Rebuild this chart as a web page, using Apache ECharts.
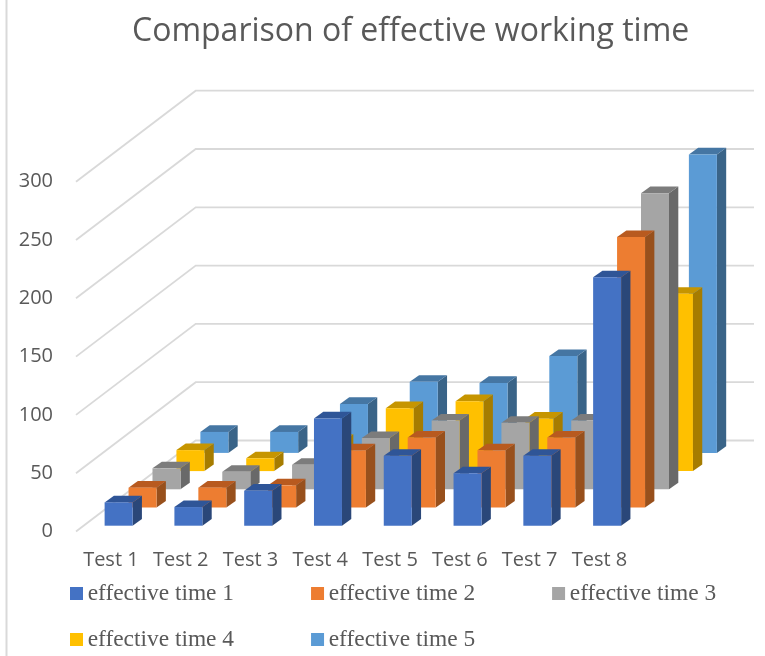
<!DOCTYPE html>
<html>
<head>
<meta charset="utf-8">
<style>html,body{margin:0;padding:0;background:#fff}#c{width:765px;height:656px}</style>
<script src="https://cdn.jsdelivr.net/npm/echarts@6/dist/echarts.min.js"></script>
</head>
<body>
<div id="c"></div>
<script>
var categories = ['Test 1','Test 2','Test 3','Test 4','Test 5','Test 6','Test 7','Test 8'];
var seriesNames = ['effective time 1','effective time 2','effective time 3','effective time 4','effective time 5'];
var time1 = [20,16,30,92,60,45,60,213];
var time2 = [17,17,19,49,60,49,60,232];
var time3 = [18,15,21,44,59,57,59,254];
var time4 = [18,11,26,54,60,45,60,152];
var time5 = [18,18,42,61,60,83,60,256];
var yTicks = [0,50,100,150,200,250,300];

var seriesValues = [time1,time2,time3,time4,time5];
var faceColors = [
  {front:'#4472C4',top:'#2F5597',side:'#2A4779'},
  {front:'#ED7D31',top:'#B85A1F',side:'#98501C'},
  {front:'#A5A5A5',top:'#7C7C7C',side:'#696969'},
  {front:'#FFC000',top:'#C69500',side:'#A67C00'},
  {front:'#5B9BD5',top:'#4576A3',side:'#3A6488'}
];
var DEPTH_X = 119.7, DEPTH_Y = 91, SLOTS = 5;
var BAR_W = 28, BAR_DX = 9.3, BAR_DY = 6.6;
var GRID_COLOR = '#D9D9D9';

function wallRender(params, api){
  var c = api.coord([0, api.value(0)]);
  var cs = params.coordSys;
  return {type:'polyline', silent:true,
    shape:{points:[[cs.x,c[1]],[cs.x+DEPTH_X,c[1]-DEPTH_Y],[cs.x+cs.width+DEPTH_X,c[1]-DEPTH_Y]]},
    style:{fill:null,stroke:GRID_COLOR,lineWidth:1.8}};
}
function barRender(k){
  return function(params, api){
    var base = api.coord([api.value(0),0]);
    var top = api.coord([api.value(0),api.value(1)]);
    var slotX = DEPTH_X/SLOTS, slotY = DEPTH_Y/SLOTS;
    var gapX = (slotX-BAR_DX)/2, gapY = (slotY-BAR_DY)/2;
    var ox = slotX*k+gapX, oy = slotY*k+gapY;
    var l = base[0]+ox-BAR_W/2+0.4, r = l+BAR_W;
    var b = base[1]-oy, t = top[1]-oy;
    var col = faceColors[k];
    return {type:'group', children:[
      {type:'polygon',shape:{points:[[r,b],[r+BAR_DX,b-BAR_DY],[r+BAR_DX,t-BAR_DY],[r,t]]},style:{fill:col.side}},
      {type:'polygon',shape:{points:[[l,t],[r,t],[r+BAR_DX,t-BAR_DY],[l+BAR_DX,t-BAR_DY]]},style:{fill:col.top}},
      {type:'rect',shape:{x:l,y:t,width:BAR_W,height:b-t},style:{fill:col.front}}
    ]};
  };
}
var series = [{
  type:'custom', silent:true, z:1,
  coordinateSystem:'cartesian2d',
  data: yTicks.map(function(v){return [v];}),
  encode:{y:0},
  renderItem:wallRender
}];
for (var k=SLOTS-1;k>=0;k--){
  series.push({
    type:'custom', name:seriesNames[k], z:2,
    coordinateSystem:'cartesian2d',
    itemStyle:{color:faceColors[k].front},
    data: seriesValues[k].map(function(v,i){return [i,v];}),
    encode:{x:0,y:1},
    renderItem:barRender(k)
  });
}
function legend(names,top){
  return {show:true,data:names,left:65,top:top,orient:'horizontal',itemWidth:13,itemHeight:13,itemGap:77,
    icon:'rect',selectedMode:false,
    textStyle:{fontFamily:'Liberation Serif',fontSize:23.4,color:'#595959',padding:[0,0,0,-0.3]}};
}
var chart = echarts.init(document.getElementById('c'),null,{renderer:'canvas'});
chart.setOption({
  animation:false,
  backgroundColor:'#fff',
  title:{text:'Comparison of effective working time',left:127,top:11,
    textStyle:{fontFamily:'Open Sans',fontSize:32,fontWeight:'normal',color:'#595959'}},
  grid:{left:76,top:181.7,width:558.3,height:349.8},
  xAxis:{type:'category',data:categories,boundaryGap:true,
    axisLine:{show:false},axisTick:{show:false},splitLine:{show:false},
    axisLabel:{interval:0,margin:19,fontFamily:'Open Sans',fontSize:20,color:'#595959'}},
  yAxis:{type:'value',min:0,max:300,interval:50,
    axisLine:{show:false},axisTick:{show:false},splitLine:{show:false},
    axisLabel:{margin:23,fontFamily:'Open Sans',fontSize:20,color:'#595959'}},
  legend:[legend(seriesNames.slice(0,3),577),legend(seriesNames.slice(3),623)],
  graphic:[{type:'line',silent:true,shape:{x1:6.5,y1:0,x2:6.5,y2:656},style:{stroke:'#D9D9D9',lineWidth:2}}],
  series:series
});
</script>
</body>
</html>
